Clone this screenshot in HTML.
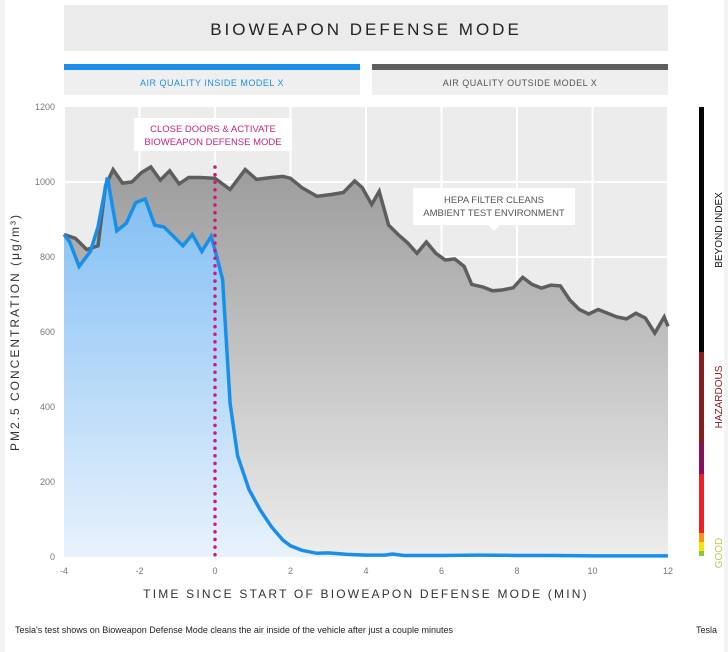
<!DOCTYPE html>
<html><head><meta charset="utf-8"><style>
body{margin:0;width:728px;height:652px;background:#f3f3f3;font-family:"Liberation Sans",sans-serif;overflow:hidden}
#panel{position:absolute;left:5px;top:0;width:719px;height:652px;background:#fff}
</style></head><body>
<div id="panel"></div>
<svg id="c" width="728" height="652" style="position:absolute;left:0;top:0">
<defs>
<linearGradient id="gg" x1="0" y1="0" x2="0" y2="1"><stop offset="0" stop-color="#9c9c9c"/><stop offset="1" stop-color="#ededed"/></linearGradient>
<linearGradient id="bg" x1="0" y1="0" x2="0" y2="1"><stop offset="0" stop-color="#7dbdf4"/><stop offset="1" stop-color="#e8f2fc"/></linearGradient>
</defs>
<rect x="64" y="5" width="604" height="46" fill="#ebebeb"/>
<text x="366" y="35" text-anchor="middle" font-size="17" letter-spacing="3" fill="#222">BIOWEAPON DEFENSE MODE</text>
<rect x="64" y="64" width="296" height="6" fill="#1a8fea"/>
<rect x="64" y="70" width="296" height="25" fill="#efefef"/>
<text x="212" y="86" text-anchor="middle" font-size="9" fill="#1a8fea" letter-spacing="0.5">AIR QUALITY INSIDE MODEL X</text>
<rect x="372" y="64" width="296" height="6" fill="#5e5e5e"/>
<rect x="372" y="70" width="296" height="25" fill="#efefef"/>
<text x="520" y="86" text-anchor="middle" font-size="9" fill="#555" letter-spacing="0.5">AIR QUALITY OUTSIDE MODEL X</text>
<rect x="64" y="107" width="604" height="450" fill="#ececec"/>
<g id="grid"></g><g id="marks"></g><g id="ticks"></g>
<text transform="translate(19,332) rotate(-90)" text-anchor="middle" font-size="12" letter-spacing="2" fill="#333">PM2.5 CONCENTRATION (μg/m³)</text>
<text x="366" y="598" text-anchor="middle" font-size="12" letter-spacing="2.2" fill="#333">TIME SINCE START OF BIOWEAPON DEFENSE MODE (MIN)</text>
<g>
<rect x="134" y="118" width="158" height="33" fill="#fff"/>
<text x="213" y="132" text-anchor="middle" font-size="9.5" fill="#c0287e">CLOSE DOORS &amp; ACTIVATE</text>
<text x="213" y="145" text-anchor="middle" font-size="9.5" fill="#c0287e">BIOWEAPON DEFENSE MODE</text></g>
<g>
<rect x="413" y="188" width="162" height="37" fill="#fff"/><path d="M488 225 L494 231 L500 225Z" fill="#fff"/>
<text x="494" y="203" text-anchor="middle" font-size="9.5" fill="#555">HEPA FILTER CLEANS</text>
<text x="494" y="216" text-anchor="middle" font-size="9.5" fill="#555">AMBIENT TEST ENVIRONMENT</text></g>
<g>
<rect x="699" y="107" width="5" height="245" fill="#000"/>
<rect x="699" y="352" width="5" height="91" fill="#8b1a1f"/>
<rect x="699" y="443" width="5" height="31" fill="#8c0d5a"/>
<rect x="699" y="474" width="5" height="59" fill="#ee2024"/>
<rect x="699" y="533" width="5" height="9" fill="#f7931e"/>
<rect x="699" y="542" width="5" height="9" fill="#f4e60b"/>
<rect x="699" y="551" width="5" height="5" fill="#8dc63f"/>
<text transform="translate(722,230) rotate(-90)" text-anchor="middle" font-size="10" fill="#111">BEYOND INDEX</text>
<text transform="translate(722,397) rotate(-90)" text-anchor="middle" font-size="10" fill="#8b1a1f">HAZARDOUS</text>
<text transform="translate(722,553) rotate(-90)" text-anchor="middle" font-size="10" fill="#b5cc55">GOOD</text></g>
<text x="15" y="633" font-size="9" fill="#222">Tesla's test shows on Bioweapon Defense Mode cleans the air inside of the vehicle after just a couple minutes</text>
<text x="717" y="633" text-anchor="end" font-size="9" fill="#222">Tesla</text>
</svg>
<script>
const outT=[-4,-3.7,-3.4,-3.1,-2.9,-2.7,-2.45,-2.2,-1.95,-1.7,-1.45,-1.2,-0.95,-0.7,-0.4,0,0.4,0.8,1.1,1.5,1.8,2,2.3,2.7,3.1,3.4,3.7,3.9,4.15,4.35,4.6,4.85,5.1,5.35,5.6,5.85,6.1,6.35,6.6,6.8,7.1,7.35,7.6,7.9,8.15,8.4,8.65,8.9,9.15,9.4,9.65,9.9,10.15,10.4,10.65,10.9,11.15,11.4,11.65,11.9,12];
const outV=[860,850,820,830,990,1033,997,1000,1025,1040,1005,1030,995,1012,1012,1010,980,1033,1007,1012,1015,1010,985,962,967,972,1003,985,940,975,885,860,838,810,840,810,792,795,775,727,720,710,712,718,746,727,717,725,723,685,660,648,660,650,640,635,650,637,597,640,615];
const inT=[-4,-3.85,-3.6,-3.3,-3.1,-2.85,-2.6,-2.35,-2.1,-1.85,-1.6,-1.35,-1.1,-0.85,-0.6,-0.35,-0.1,0.05,0.2,0.4,0.6,0.9,1.2,1.5,1.8,2,2.3,2.7,3,3.5,4,4.5,4.7,5,6,7,8,9,10,11,12];
const inV=[860,840,775,815,880,1012,870,890,945,955,885,880,855,830,860,815,855,800,740,410,270,180,125,80,45,30,18,10,11,7,5,5,8,4,4,5,4,4,3,3,3];
const xTicks=[-4,-2,0,2,4,6,8,10,12];
const yTicks=[0,200,400,600,800,1000,1200];
const NS='http://www.w3.org/2000/svg';
const X=t=>64+(t+4)*604/16, Y=v=>557-v*450/1200;
function mk(tag,attrs,parent){const e=document.createElementNS(NS,tag);for(const k in attrs)e.setAttribute(k,attrs[k]);document.getElementById(parent).appendChild(e);return e;}
xTicks.forEach(t=>{
 const g=mk('line',{x1:X(t),x2:X(t),y1:107,y2:557,stroke:'#fff','stroke-width':2},'grid');
 
 
 const l=mk('text',{x:X(t),y:574,'text-anchor':'middle','font-size':9,fill:'#777'},'ticks');l.textContent=t;
 
 
});
yTicks.forEach(v=>{
 if(v>0&&v<1200){const g=mk('line',{x1:64,x2:668,y1:Y(v),y2:Y(v),stroke:'#fff','stroke-width':2},'grid');
 
 }
 const l=mk('text',{x:55,y:Y(v)+3,'text-anchor':'end','font-size':9,fill:'#777'},'ticks');l.textContent=v;
 
 
});
const pts=(T,V)=>T.map((t,i)=>X(t).toFixed(1)+','+Y(V[i]).toFixed(1)).join(' ');
const oa=mk('polygon',{points:pts(outT,outV)+` ${X(12)},557 ${X(-4)},557`,fill:'url(#gg)'},'marks');


const ia=mk('polygon',{points:pts(inT,inV)+` ${X(12)},557 ${X(-4)},557`,fill:'url(#bg)'},'marks');


const ol=mk('polyline',{points:pts(outT,outV),fill:'none',stroke:'#5e5e5e','stroke-width':3.5,'stroke-linejoin':'miter'},'marks');


const il=mk('polyline',{points:pts(inT,inV),fill:'none',stroke:'#1a8fea','stroke-width':3.5,'stroke-linejoin':'miter'},'marks');


const vl=mk('line',{x1:X(0),x2:X(0),y1:167,y2:557,stroke:'#d1167f','stroke-width':3.5,'stroke-dasharray':'0.1 7.5','stroke-linecap':'round'},'marks');


</script>
</body></html>
